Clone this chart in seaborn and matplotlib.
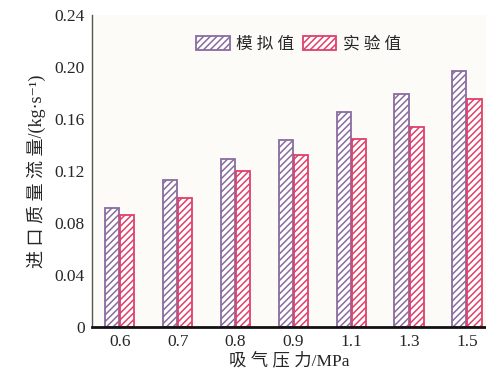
import matplotlib
matplotlib.use("Agg")
import matplotlib.pyplot as plt
import seaborn as sns
import pandas as pd

categories = ["0.6", "0.7", "0.8", "0.9", "1.1", "1.3", "1.5"]
sim_values = [0.0917, 0.1128, 0.129, 0.1437, 0.165, 0.179, 0.1965]
exp_values = [0.0861, 0.0996, 0.120, 0.1323, 0.1445, 0.154, 0.1755]
series_names = ["模 拟 值", "实 验 值"]
yticks = [0, 0.04, 0.08, 0.12, 0.16, 0.20, 0.24]
ytick_labels = ["0", "0.04", "0.08", "0.12", "0.16", "0.20", "0.24"]

df = pd.DataFrame({
    "p": categories * 2,
    "v": sim_values + exp_values,
    "s": [series_names[0]] * len(categories) + [series_names[1]] * len(categories),
})

sns.set_theme(style="white")
plt.rcParams["font.family"] = ["Liberation Serif", "Noto Sans CJK SC", "DejaVu Serif"]
plt.rcParams["hatch.linewidth"] = 1.1

edge_colors = ["#8a6c9e", "#e0406a"]

fig = plt.figure(figsize=(4.86, 3.8), dpi=100)
ax = fig.add_axes([0.189, 0.139, 0.811, 0.822])
ax.set_facecolor("#fcfbf8")

sns.barplot(data=df, x="p", y="v", hue="s", order=categories,
            hue_order=series_names, width=0.52, gap=0.06,
            palette=["white", "white"], ax=ax, legend=True)

for container, col in zip(ax.containers, edge_colors):
    for bar in container:
        bar.set_facecolor("white")
        bar.set_edgecolor(col)
        bar.set_hatch("/////")
        bar.set_linewidth(1.3)

ax.set_ylim(0, 0.24)
ax.set_xlim(-0.485, 6.33)
ax.set_yticks(yticks)
ax.set_yticklabels(ytick_labels)

ax.set_xlabel("吸 气 压 力/MPa", fontsize=12.5, labelpad=2)
ax.set_ylabel("进 口 质 量 流 量/(kg·s⁻¹)", fontsize=13, labelpad=6)

ax.tick_params(axis="both", labelsize=12.5, direction="in", length=5,
               width=1.0, color="#333333", pad=5)
ax.tick_params(axis="y", length=7)
ax.tick_params(axis="x", length=4)

for side in ["top", "right"]:
    ax.spines[side].set_visible(False)
ax.spines["left"].set_color("#555555")
ax.spines["left"].set_linewidth(1.0)
ax.spines["bottom"].set_color("#111111")
ax.spines["bottom"].set_linewidth(2.0)

handles, labels = ax.get_legend_handles_labels()
for h, col in zip(handles, edge_colors):
    h.set_facecolor("white")
    h.set_edgecolor(col)
    h.set_hatch("/////")
    h.set_linewidth(1.3)
ax.legend(handles, labels, loc="upper center", bbox_to_anchor=(0.525, 0.98),
          ncol=2, frameon=False, fontsize=12, handlelength=2.0,
          handleheight=0.9, columnspacing=0.5, handletextpad=0.4)

fig.savefig("out.png", dpi=100)
